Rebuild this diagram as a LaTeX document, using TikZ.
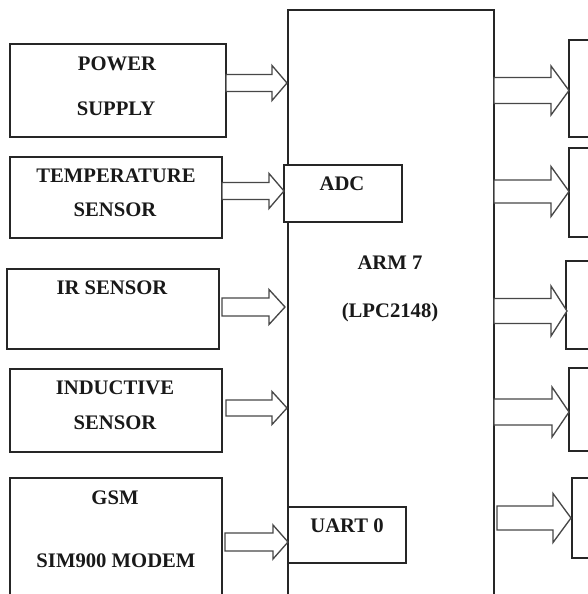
\documentclass[tikz,border=0pt]{standalone}
\usepackage{fontspec}
\setmainfont{Liberation Serif}
\newcommand\pxbox[5]{\node[box, anchor=north west, minimum width={#4*0.75pt-#2*0.75pt}, minimum height={#5*0.75pt-#3*0.75pt}] (#1) at (#2,#3) {};}
\newcommand\blkarrow[6]{\draw[barrow] (#1,{#4-#5}) -- (#2,{#4-#5}) -- (#2,{#4-#6}) -- (#3,#4) -- (#2,{#4+#6}) -- (#2,{#4+#5}) -- (#1,{#4+#5}) -- cycle;}
\begin{document}
\begin{tikzpicture}[x=0.75pt,y=-0.75pt,
  box/.style={draw=black!85, line width=1pt, fill=white, inner sep=0pt, outer sep=0pt},
  lbl/.style={font=\fontsize{15.5}{18}\selectfont\bfseries, anchor=base, inner sep=0pt, text=black!90},
  barrow/.style={draw=black!72, line width=1pt, fill=white, line join=miter}]
\useasboundingbox (0,0) rectangle (588,594);
\clip (0,0) rectangle (588,594);
% left boxes
\pxbox{ps}{10}{44}{226}{137}
\pxbox{temp}{10}{157}{222}{238}
\pxbox{ir}{7}{269}{219}{349}
\pxbox{ind}{10}{369}{222}{452}
\pxbox{gsm}{10}{478}{222}{610}
% main controller
\pxbox{arm}{288}{10}{494}{610}
\pxbox{adc}{284}{165}{402}{222}
\pxbox{uart}{288}{507}{406}{563}
% right boxes
\pxbox{o1}{569}{40}{610}{137}
\pxbox{o2}{569}{148}{610}{237}
\pxbox{o3}{566}{261}{610}{349}
\pxbox{o4}{569}{368}{610}{451}
\pxbox{o5}{572}{478}{610}{558}
% labels
\node[lbl] (tps1) at (117,70) {POWER};
\node[lbl] (tps2) at (116,115) {SUPPLY};
\node[lbl] (tt1) at (116,182) {TEMPERATURE};
\node[lbl] (tt2) at (115,216) {SENSOR};
\node[lbl] (tir) at (112,294) {IR SENSOR};
\node[lbl] (ti1) at (115,394) {INDUCTIVE};
\node[lbl] (ti2) at (115,429) {SENSOR};
\node[lbl] (tg1) at (115,504) {GSM};
\node[lbl] (tg2) at (116,567) {SIM900 MODEM};
\node[lbl] (tadc) at (342,190) {ADC};
\node[lbl] (tarm1) at (390,269) {ARM 7};
\node[lbl] (tarm2) at (390,317) {(LPC2148)};
\node[lbl] (tuart) at (347,532) {UART 0};
% input arrows
\blkarrow{226}{272}{287}{83}{8.5}{17.5}
\blkarrow{222}{269}{284}{191}{8.5}{17.5}
\blkarrow{222}{269}{285}{307}{9}{17.5}
\blkarrow{226}{272}{287}{408}{8}{16.5}
\blkarrow{225}{273}{288}{542}{9}{17}
% output arrows
\blkarrow{494}{551}{569}{90.5}{13}{24.5}
\blkarrow{494}{551}{569}{191.5}{11.5}{25}
\blkarrow{494}{551}{567}{311}{12.5}{25}
\blkarrow{494}{552}{569}{412}{13}{25}
\blkarrow{497}{553}{571}{518}{12}{24.5}
\end{tikzpicture}
\end{document}
